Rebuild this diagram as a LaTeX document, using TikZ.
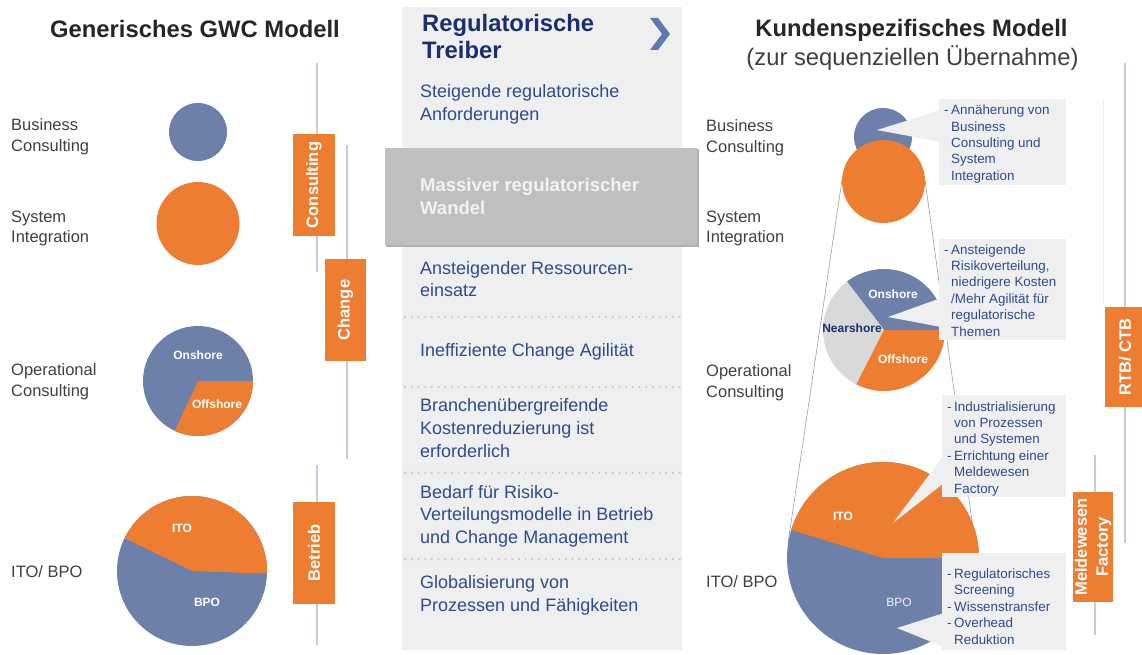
\documentclass[tikz,border=0pt]{standalone}
\usepackage{fontspec}
\setmainfont{Liberation Sans}
\definecolor{cblue}{HTML}{6C80A9}
\definecolor{corange}{HTML}{ED7D31}
\definecolor{cpanel}{HTML}{EFEFEF}
\definecolor{cband}{HTML}{BFBFBF}
\definecolor{cshadow}{HTML}{B0B0B0}
\definecolor{cnavy}{HTML}{1B2F6E}
\definecolor{ctext}{HTML}{2D4C8C}
\definecolor{cline}{HTML}{C3CBDD}
\definecolor{cgray}{HTML}{D9D9D9}
\definecolor{clabel}{HTML}{404040}
\definecolor{cchev}{HTML}{5A7AB0}
\definecolor{cfunnel}{HTML}{A0A0A0}
\definecolor{cdots}{HTML}{C4C4C4}
\definecolor{cfaint}{HTML}{EDEDED}
\newcommand\tlines[6]{\foreach \mytl [count=\myi] in {#6}{\node[#1] (#2-\myi) at (#3,{#4+(\myi-1)*#5}) {\mytl};}}
\begin{document}
\begin{tikzpicture}[x=1pt,y=-1pt,
  ttl/.style={font=\bfseries\fontsize{23.8}{28}\selectfont, text=black!85, inner sep=0, anchor=base},
  sub/.style={font=\fontsize{23.8}{28}\selectfont, text=black!75, inner sep=0, anchor=base},
  lbl/.style={font=\fontsize{16.5}{20}\selectfont, text=clabel, inner sep=0, anchor=base west},
  mid/.style={font=\fontsize{18}{23}\selectfont, text=ctext, inner sep=0, anchor=base west},
  midb/.style={font=\bfseries\fontsize{18.5}{23}\selectfont, text=white!95!black, inner sep=0, anchor=base west},
  midt/.style={font=\bfseries\fontsize{23.8}{28}\selectfont, text=cnavy, inner sep=0, anchor=base west},
  call/.style={font=\fontsize{13.4}{16}\selectfont, text=ctext, inner sep=0, anchor=base west},
  vbar/.style={draw=cline, line width=1.8},
  tag/.style={fill=corange, text=white, font=\bfseries\fontsize{16.5}{21}\selectfont, rotate=90, inner sep=0},
  pielbl/.style={text=white, font=\bfseries\fontsize{12}{14}\selectfont, inner sep=0},
  dots/.style={draw=cdots, line width=2.2, line cap=round, dash pattern=on 0pt off 6.7pt},
  cbox/.style={fill=cpanel, inner sep=0, anchor=north west},
  funnel/.style={draw=cfunnel, line width=0.6},
  disc/.style={circle, inner sep=0, minimum size=#1}
]
\useasboundingbox[fill=white] (0,0) rectangle (1142,655);

% ---------- titles ----------
\node[ttl] (tl) at (195,38) {Generisches GWC Modell};
\node[ttl] (tr) at (911.5,37) {Kundenspezifisches Modell};
\node[sub] (trs) at (912.5,66) {(zur sequenziellen Übernahme)};

% ---------- left column ----------
\tlines{lbl}{lb}{11}{131}{21}{Business,Consulting}
\tlines{lbl}{ls}{11}{222}{20.5}{System,Integration}
\tlines{lbl}{lo}{11}{375}{21}{Operational,Consulting}
\node[lbl] (li) at (11,577) {ITO/ BPO};

\node[disc=58, fill=cblue] (lbc) at (198,132) {};
\node[disc=83, fill=corange] (lsi) at (198,223.5) {};

\node[disc=110, fill=cblue] (lop) at (198,381) {};
\fill[corange] (lop.center) -- ++(115:55) arc[start angle=115, end angle=0, radius=55] -- cycle;
\node[pielbl] (lon) at (198,355) {Onshore};
\node[pielbl] (lof) at (217,404) {Offshore};

\node[disc=150, fill=cblue] (lit) at (192,571) {};
\fill[corange] (lit.center) -- ++(2:75) arc[start angle=2, end angle=-154, radius=75] -- cycle;
\node[pielbl] (lito) at (182,528) {ITO};
\node[pielbl] (lbpo) at (207,602) {BPO};

\draw[vbar] (317,63) -- (317,272);
\node[tag, minimum width=102, minimum height=42] (tgc) at (314,185) {Consulting};
\draw[vbar] (347,145) -- (347,459);
\node[tag, minimum width=102, minimum height=41] (tgch) at (345.5,310) {Change};
\draw[vbar] (317,465) -- (317,645);
\node[tag, minimum width=102, minimum height=42] (tgb) at (314,553) {Betrieb};

% ---------- middle column ----------
\fill[cpanel] (402,7) rectangle (682,650);
\fill[cshadow] (386,149) rectangle (698.5,246.5);
\fill[cband] (385,148) rectangle (697,245);
\draw[dots] (405,317) -- (682,317);
\draw[dots] (405,387) -- (682,387);
\draw[dots] (405,473) -- (682,473);
\draw[dots] (405,559) -- (682,559);

\tlines{midt}{mt}{422}{32}{27}{Regulatorische,Treiber}
\fill[cchev] (650,18) -- (658,18) -- (670,34) -- (658,50) -- (650,50) -- (662,34) -- cycle;
\tlines{mid}{m1}{420}{98}{23}{Steigende regulatorische,Anforderungen}
\tlines{midb}{m2}{420}{191}{23}{Massiver regulatorischer,Wandel}
\tlines{mid}{m3}{420}{274}{22.5}{Ansteigender Ressourcen-,einsatz}
\node[mid] (m4) at (420,356) {Ineffiziente Change Agilität};
\tlines{mid}{m5}{420}{411}{23}{Branchenübergreifende,Kostenreduzierung ist,erforderlich}
\tlines{mid}{m6}{420}{498}{22.5}{Bedarf für Risiko-,Verteilungsmodelle in Betrieb,und Change Management}
\tlines{mid}{m7}{420}{588}{23}{Globalisierung von,Prozessen und Fähigkeiten}

% ---------- right column ----------
\tlines{lbl}{rb}{706}{132}{20.5}{Business,Consulting}
\tlines{lbl}{rs}{706}{222}{20.5}{System,Integration}
\tlines{lbl}{ro}{706}{376}{21}{Operational,Consulting}
\node[lbl] (ri) at (706,587) {ITO/ BPO};

\draw[cfaint, line width=0.8] (1103,100) -- (1103,305);
\draw[vbar] (1125,63) -- (1125,543);
\node[tag, minimum width=100, minimum height=40] (rtb) at (1125,357) {RTB/ CTB};
\draw[vbar] (1095,455) -- (1095,635);
\node[tag, align=center, minimum width=110, minimum height=40] (mwf) at (1093,547) {Meldewesen\\Factory};

% funnel lines
\coordinate (fl1) at (842,180); \coordinate (fl2) at (788,543);
\coordinate (fr1) at (925,180); \coordinate (fr2) at (975,543);
\draw[funnel] (fl1) -- (fl2);
\draw[funnel] (fr1) -- (fr2);

% business / system circles
\node[disc=58, fill=cblue] (rbc) at (883,137) {};
\fill[cpanel] (877,130) -- (941,110) -- (941,142) -- cycle;
\node[disc=83, fill=corange] (rsi) at (883.5,181.5) {};

% operational pie
\coordinate (opc) at (884,330);
\fill[cblue] (opc) -- ++(0:61) arc[start angle=0, end angle=-127.5, radius=61] -- cycle;
\fill[cgray] (opc) -- ++(-127.5:61) arc[start angle=-127.5, end angle=-243, radius=61] -- cycle;
\fill[corange] (opc) -- ++(-243:61) arc[start angle=-243, end angle=-360, radius=61] -- cycle;
\fill[cpanel] (888,317) -- (941,298) -- (941,327) -- cycle;
\node[pielbl] (ron) at (893,294) {Onshore};
\node[pielbl, text=cnavy] (rne) at (852,328) {Nearshore};
\node[pielbl] (rof) at (903,359) {Offshore};

% ITO / BPO pie
\node[disc=192, fill=cblue] (rit) at (883,558) {};
\fill[corange] (rit.center) -- ++(0:96) arc[start angle=0, end angle=-163, radius=96] -- cycle;
\fill[cpanel] (893,523) -- (944,455) -- (944,483) -- cycle;
\fill[cpanel] (897,628) -- (944,613) -- (944,647) -- cycle;
\node[pielbl] (rito) at (843,516) {ITO};
\node[pielbl, font=\fontsize{12}{14}\selectfont, text=white!90!cblue] (rbpo) at (899,602) {BPO};

% callout boxes
\node[cbox, minimum width=127, minimum height=86] (b1) at (939,99) {};
\node[cbox, minimum width=127, minimum height=101] (b2) at (939,239) {};
\node[cbox, minimum width=124, minimum height=102] (b3) at (942,395) {};
\node[cbox, minimum width=124, minimum height=97] (b4) at (942,553) {};

\node[call] (b1d) at (944,115) {-};
\tlines{call}{b1t}{951}{115}{16.3}{Annäherung von,Business,Consulting und,System,Integration}
\node[call] (b2d) at (944,254) {-};
\tlines{call}{b2t}{951}{254}{16.4}{Ansteigende,{Risikoverteilung,},niedrigere Kosten,/Mehr Agilität für,regulatorische,Themen}
\node[call] (b3d1) at (947,411) {-};
\node[call] (b3d2) at (947,460.2) {-};
\tlines{call}{b3t}{954}{411}{16.4}{Industrialisierung,von Prozessen,und Systemen,Errichtung einer,Meldewesen,Factory}
\node[call] (b4d1) at (947,578) {-};
\node[call] (b4d2) at (947,611) {-};
\node[call] (b4d3) at (947,627.5) {-};
\tlines{call}{b4t}{954}{578}{16.5}{Regulatorisches,Screening,Wissenstransfer,Overhead,Reduktion}
\end{tikzpicture}
\end{document}
